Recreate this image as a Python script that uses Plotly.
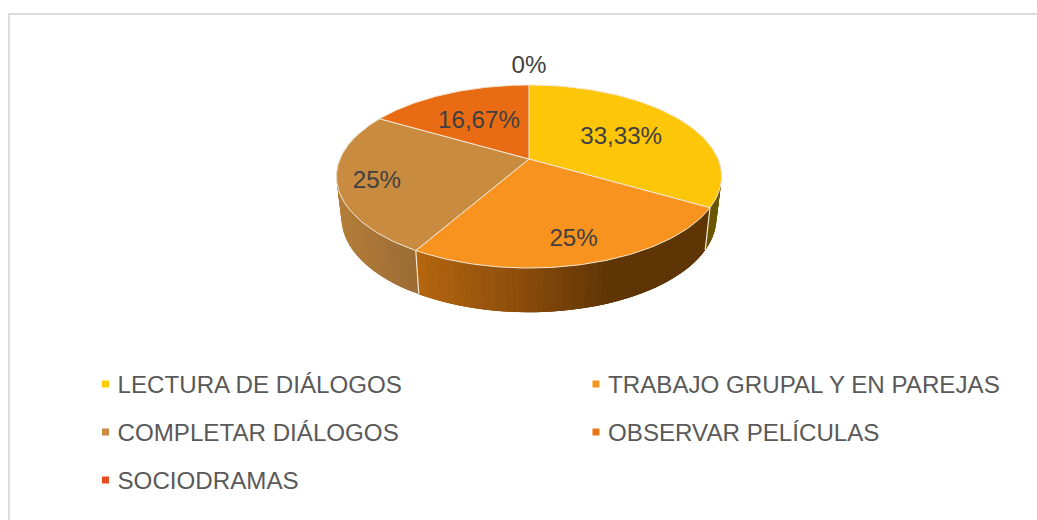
import numpy as np
import plotly.graph_objects as go

# ---- data ----
categories = ["LECTURA DE DIÁLOGOS", "TRABAJO GRUPAL Y EN PAREJAS", "COMPLETAR DIÁLOGOS",
              "OBSERVAR PELÍCULAS", "SOCIODRAMAS"]
values = [33.33, 25, 25, 16.67, 0]
value_labels = ["33,33%", "25%", "25%", "16,67%", "0%"]

# ---- style ----
top_colors = ["#fdc608", "#f7931e", "#c98b3f", "#e96c14", "#e84c22"]
legend_colors = ["#ffcc00", "#f7941d", "#c98a3e", "#ee7418", "#e84c22"]
side_stops = [
    [(690, "#6b5600"), (725, "#6b5600")],
    [(417, "#b5660f"), (520, "#8c4d0c"), (610, "#603505"), (710, "#5f3506")],
    [(335, "#b57f3a"), (417, "#9b6c35")],
    [(330, "#8a4c10"), (530, "#8a4c10")],
    [(330, "#8a3010"), (530, "#8a3010")],
]
label_radius = [0.595, 0.78, 0.80, 0.58, 1.37]
TEXT_DY = 3.5
RIM = "#f3e7d3"
TXT_LABEL = "#404040"
TXT_LEGEND = "#595959"
FONT = "Liberation Sans"
FONT_SIZE = 24.15

# projection of the pie disc onto the picture
CX, CY, A, B, K = 529.0, 159.0, 189.0, 88.2, 0.191
BCX, BCY, BA, BB = 529.0, 200.0, 184.0, 90.8


def proj(theta, r=1.0, cx=CX, cy=CY, a=A, b=B):
    u, v = r * np.sin(theta), r * np.cos(theta)
    w = 1 + K * v
    return cx + a * u / w, cy - b * v / w


def hex2rgb(h):
    return np.array([int(h[i:i + 2], 16) for i in (1, 3, 5)], float)


def grad(stops, x):
    xs = [s[0] for s in stops]
    cs = np.array([hex2rgb(s[1]) for s in stops])
    return "rgb(%d,%d,%d)" % tuple(np.interp(x, xs, cs[:, i]) for i in range(3))


fracs = np.array(values, float) / sum(values)
edges = np.concatenate([[0], np.cumsum(fracs)]) * 2 * np.pi
fig = go.Figure()


def poly(xs, ys, fill, line=None, width=1):
    fig.add_trace(go.Scatter(x=xs, y=ys, mode="lines", fill="toself", fillcolor=fill,
                             line=dict(color=line or fill, width=width),
                             hoverinfo="skip", showlegend=False))


# side wall: overlapping narrow strips, only the part of the wall that faces the viewer
vis_lo, vis_hi = np.deg2rad(85), np.deg2rad(285)
for i in range(len(values)):
    lo, hi = max(edges[i], vis_lo), min(edges[i + 1], vis_hi)
    if hi <= lo:
        continue
    n = max(2, int(np.degrees(hi - lo) / 1.5))
    t = np.linspace(lo, hi, n + 1)
    for j in range(n):
        a0, a1 = t[j], t[min(j + 3, n)]
        xm = proj(t[j] / 2 + t[j + 1] / 2)[0]
        ta = np.linspace(a0, a1, 5)
        tx, ty = proj(ta)
        bx, by = proj(ta[::-1], cx=BCX, cy=BCY, a=BA, b=BB)
        fig.add_trace(go.Scatter(x=np.r_[tx, bx, tx[0]], y=np.r_[ty, by, ty[0]], mode="lines", fill="toself",
                                 fillcolor=grad(side_stops[i], xm), line=dict(width=0),
                                 hoverinfo="skip", showlegend=False))

# light seams on the wall
for e in edges[1:3]:
    xt, yt = proj(e)
    xb, yb = proj(e, cx=BCX, cy=BCY, a=BA, b=BB)
    fig.add_trace(go.Scatter(x=[xt, xb], y=[yt, yb], mode="lines", line=dict(color=RIM, width=1.2),
                             hoverinfo="skip", showlegend=False))

# top face
for i in range(len(values)):
    if values[i] <= 0:
        continue
    t = np.linspace(edges[i], edges[i + 1], 80)
    x, y = proj(t)
    poly(np.r_[CX, x, CX], np.r_[CY, y, CY], top_colors[i], line=RIM, width=1)

# value labels
for i, lab in enumerate(value_labels):
    mid = (edges[i] + edges[i + 1]) / 2
    if values[i] <= 0:
        mid = 0.0
    lx, ly = proj(mid, label_radius[i])
    fig.add_trace(go.Scatter(x=[lx], y=[ly + TEXT_DY], mode="text", text=[lab], textposition="middle center",
                             textfont=dict(family=FONT, size=FONT_SIZE, color=TXT_LABEL),
                             hoverinfo="skip", showlegend=False))

# legend
col_x = [105.5, 596]
row_y = [384, 432, 480]
for i, name in enumerate(categories):
    mx, my = col_x[i % 2], row_y[i // 2]
    fig.add_trace(go.Scatter(x=[mx], y=[my], mode="markers",
                             marker=dict(symbol="square", size=7, color=legend_colors[i]),
                             hoverinfo="skip", showlegend=False))
    fig.add_trace(go.Scatter(x=[mx + 12], y=[my + TEXT_DY - 0.5], mode="text", text=[name], textposition="middle right",
                             textfont=dict(family=FONT, size=FONT_SIZE, color=TXT_LEGEND),
                             hoverinfo="skip", showlegend=False))

fig.update_layout(
    width=1037, height=520, margin=dict(l=0, r=0, t=0, b=0),
    paper_bgcolor="white", plot_bgcolor="white", showlegend=False,
    xaxis=dict(range=[0, 1037], visible=False, fixedrange=True),
    yaxis=dict(range=[520, 0], visible=False, fixedrange=True),
    shapes=[
        dict(type="line", xref="x", yref="y", x0=9, x1=9, y0=13, y1=520, line=dict(color="#dcdcdc", width=2)),
        dict(type="line", xref="x", yref="y", x0=8, x1=1037, y0=14, y1=14, line=dict(color="#dcdcdc", width=2)),
    ],
)
fig.write_html("out.html", post_script="document.body.style.margin='0';document.body.style.overflow='hidden';",
               config=dict(displayModeBar=False))
